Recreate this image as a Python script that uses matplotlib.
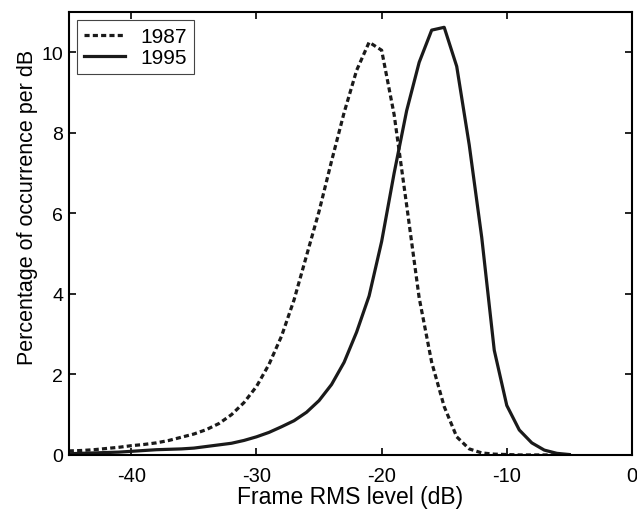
import matplotlib
matplotlib.use("Agg")
from matplotlib import pyplot as plt

plt.rcParams['font.family'] = ['Liberation Sans', 'DejaVu Sans']
plt.rcParams['axes.unicode_minus'] = False

# Frame RMS level (dB), 1 dB bins
levels = list(range(-45, -4))

# Percentage of occurrence per dB
pct_1987 = [0.10, 0.11, 0.13, 0.16, 0.19, 0.23, 0.26, 0.30, 0.36, 0.44,
            0.52, 0.63, 0.78, 1.00, 1.30, 1.70, 2.25, 2.95, 3.85, 4.95,
            6.05, 7.30, 8.50, 9.55, 10.25, 10.05, 8.45, 6.20, 3.90, 2.30,
            1.20, 0.45, 0.15, 0.05, 0.02, 0.01, 0.0, 0.0, 0.0, 0.0, 0.0]
pct_1995 = [0.03, 0.04, 0.05, 0.06, 0.07, 0.09, 0.11, 0.13, 0.14, 0.15,
            0.17, 0.21, 0.25, 0.29, 0.36, 0.45, 0.56, 0.70, 0.85, 1.06,
            1.35, 1.75, 2.30, 3.05, 3.95, 5.30, 7.00, 8.55, 9.75, 10.55,
            10.62, 9.65, 7.70, 5.40, 2.60, 1.23, 0.62, 0.30, 0.12, 0.04, 0.01]

fig = plt.figure(figsize=(6.37, 5.10), dpi=100)
ax = fig.add_axes([0.108, 0.106, 0.884, 0.8685])

ax.plot(levels, pct_1987, color='#1a1a1a', lw=2.3, dashes=(1.6, 1.0), label='1987')
ax.plot(levels, pct_1995, color='#1a1a1a', lw=2.3, label='1995')

ax.set_xlim(-45, 0)
ax.set_ylim(0, 11)
ax.set_xticks([-40, -30, -20, -10, 0])
ax.set_yticks([0, 2, 4, 6, 8, 10])
ax.tick_params(direction='in', top=True, right=True, length=5, width=1.2)
ax.tick_params(axis='x', labelsize=14.5, pad=8)
ax.tick_params(axis='y', labelsize=14, pad=4)
for s in ax.spines.values():
    s.set_linewidth(1.5)

ax.set_xlabel('Frame RMS level (dB)', fontsize=16.5, labelpad=0)
ax.set_ylabel('Percentage of occurrence per dB', fontsize=15.5)
ax.yaxis.set_label_coords(-0.055, 0.56)

leg = ax.legend(loc='upper left', fontsize=15, fancybox=False, framealpha=1,
                edgecolor='#444444', handlelength=2.0, handletextpad=0.7,
                borderpad=0.35, labelspacing=0.1, borderaxespad=0.37)
leg.get_frame().set_linewidth(0.8)

fig.savefig('out.png', dpi=100)
